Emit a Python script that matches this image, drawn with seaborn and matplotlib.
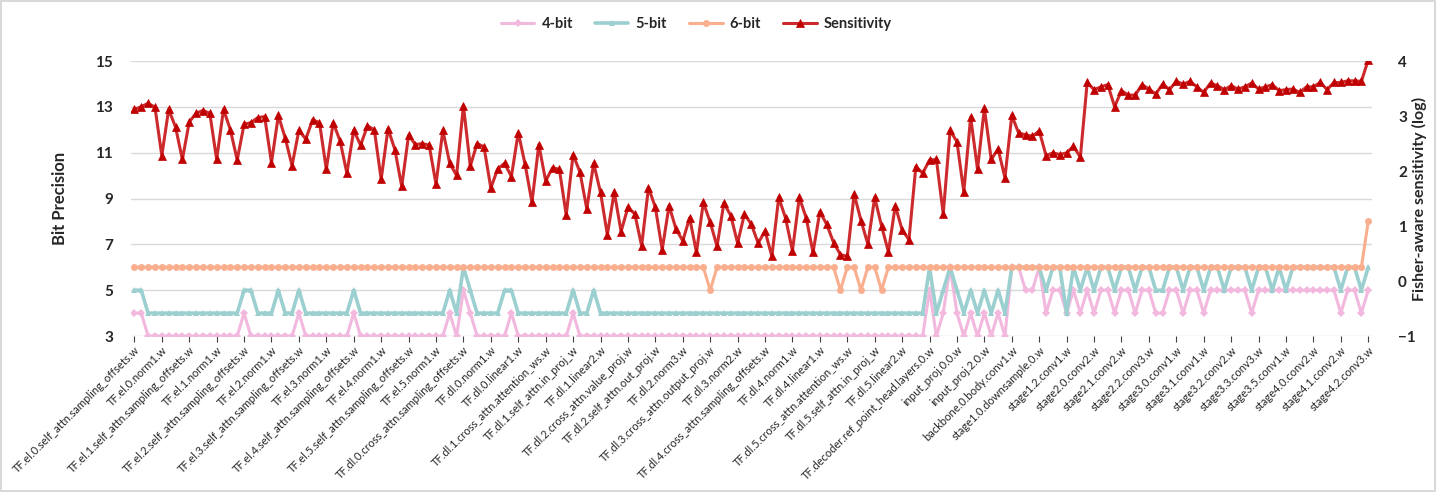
import numpy as np
import pandas as pd
import matplotlib
matplotlib.use("Agg")
import matplotlib.pyplot as plt
import seaborn as sns

# per-layer bit allocation
bits_4 = [4, 4, 3, 3, 3, 3, 3, 3, 3, 3, 3, 3, 3, 3, 3, 3, 4, 3, 3, 3,
          3, 3, 3, 3, 4, 3, 3, 3, 3, 3, 3, 3, 4, 3, 3, 3, 3, 3, 3, 3,
          3, 3, 3, 3, 3, 3, 4, 3, 5, 4, 3, 3, 3, 3, 3, 4, 3, 3, 3, 3,
          3, 3, 3, 3, 4, 3, 3, 3, 3, 3, 3, 3, 3, 3, 3, 3, 3, 3, 3, 3,
          3, 3, 3, 3, 3, 3, 3, 3, 3, 3, 3, 3, 3, 3, 3, 3, 3, 3, 3, 3,
          3, 3, 3, 3, 3, 3, 3, 3, 3, 3, 3, 3, 3, 3, 3, 3, 5, 3, 4, 6,
          4, 3, 4, 3, 4, 3, 4, 3, 6, 6, 5, 5, 6, 4, 5, 5, 4, 5, 4, 5,
          4, 5, 5, 4, 5, 5, 4, 5, 5, 4, 4, 5, 5, 4, 5, 5, 4, 5, 5, 5,
          5, 5, 5, 4, 5, 5, 5, 5, 5, 5, 5, 5, 5, 5, 5, 5, 4, 5, 5, 4,
          5]

bits_5 = [5, 5, 4, 4, 4, 4, 4, 4, 4, 4, 4, 4, 4, 4, 4, 4, 5, 5, 4, 4,
          4, 5, 4, 4, 5, 4, 4, 4, 4, 4, 4, 4, 5, 4, 4, 4, 4, 4, 4, 4,
          4, 4, 4, 4, 4, 4, 5, 4, 6, 5, 4, 4, 4, 4, 5, 5, 4, 4, 4, 4,
          4, 4, 4, 4, 5, 4, 4, 5, 4, 4, 4, 4, 4, 4, 4, 4, 4, 4, 4, 4,
          4, 4, 4, 4, 4, 4, 4, 4, 4, 4, 4, 4, 4, 4, 4, 4, 4, 4, 4, 4,
          4, 4, 4, 4, 4, 4, 4, 4, 4, 4, 4, 4, 4, 4, 4, 4, 6, 4, 5, 6,
          5, 4, 5, 4, 5, 4, 5, 4, 6, 6, 6, 6, 6, 5, 6, 6, 4, 6, 5, 6,
          5, 6, 6, 5, 6, 6, 5, 6, 6, 5, 5, 6, 6, 5, 6, 6, 5, 6, 6, 5,
          6, 6, 6, 5, 6, 6, 5, 6, 5, 6, 6, 6, 6, 6, 6, 6, 5, 6, 6, 5,
          6]

bits_6 = [6] * 84 + [5] + [6] * 18 + [5, 6, 6, 5, 6, 6, 5] + [6] * 70 + [8]

# Fisher-aware sensitivity (log), right axis
sensitivity = [3.12, 3.17, 3.23, 3.16, 2.28, 3.12, 2.80, 2.21, 2.89, 3.05,
               3.10, 3.05, 2.21, 3.12, 2.75, 2.20, 2.85, 2.88, 2.97, 2.99,
               2.15, 3.01, 2.60, 2.10, 2.74, 2.58, 2.93, 2.88, 2.03, 2.88,
               2.55, 1.96, 2.74, 2.47, 2.82, 2.75, 1.85, 2.77, 2.39, 1.72,
               2.65, 2.48, 2.50, 2.47, 1.76, 2.74, 2.14, 1.92, 3.19, 2.09,
               2.50, 2.44, 1.69, 2.04, 2.14, 1.90, 2.70, 2.12, 1.43, 2.48,
               1.82, 2.06, 2.03, 1.20, 2.30, 1.98, 1.31, 2.14, 1.61, 0.84,
               1.62, 0.90, 1.34, 1.22, 0.64, 1.70, 1.34, 0.57, 1.37, 0.95,
               0.73, 1.15, 0.52, 1.43, 1.07, 0.63, 1.42, 1.19, 0.69, 1.22,
               1.03, 0.69, 0.91, 0.45, 1.52, 1.14, 0.55, 1.52, 1.15, 0.52,
               1.26, 1.03, 0.70, 0.48, 0.45, 1.58, 1.10, 0.67, 1.52, 1.00,
               0.53, 1.37, 0.93, 0.75, 2.08, 1.96, 2.20, 2.21, 1.22, 2.74,
               2.53, 1.62, 2.98, 2.03, 3.14, 2.21, 2.40, 1.88, 3.01, 2.69,
               2.66, 2.63, 2.73, 2.28, 2.33, 2.30, 2.33, 2.45, 2.25, 3.61,
               3.48, 3.53, 3.57, 3.17, 3.46, 3.38, 3.38, 3.57, 3.49, 3.40,
               3.58, 3.48, 3.63, 3.58, 3.63, 3.53, 3.43, 3.60, 3.55, 3.48,
               3.55, 3.49, 3.53, 3.60, 3.49, 3.53, 3.57, 3.46, 3.48, 3.49,
               3.43, 3.53, 3.53, 3.61, 3.48, 3.61, 3.61, 3.64, 3.64, 3.63,
               4.02]

# every 4th layer name is printed on the axis
tick_labels = [
    "TF.el.0.self_attn.sampling_offsets.w", "TF.el.0.norm1.w",
    "TF.el.1.self_attn.sampling_offsets.w", "TF.el.1.norm1.w",
    "TF.el.2.self_attn.sampling_offsets.w", "TF.el.2.norm1.w",
    "TF.el.3.self_attn.sampling_offsets.w", "TF.el.3.norm1.w",
    "TF.el.4.self_attn.sampling_offsets.w", "TF.el.4.norm1.w",
    "TF.el.5.self_attn.sampling_offsets.w", "TF.el.5.norm1.w",
    "TF.dl.0.cross_attn.sampling_offsets.w", "TF.dl.0.norm1.w",
    "TF.dl.0.linear1.w", "TF.dl.1.cross_attn.attention_ws.w",
    "TF.dl.1.self_attn.in_proj_w", "TF.dl.1.linear2.w",
    "TF.dl.2.cross_attn.value_proj.w", "TF.dl.2.self_attn.out_proj.w",
    "TF.dl.2.norm3.w", "TF.dl.3.cross_attn.output_proj.w",
    "TF.dl.3.norm2.w", "TF.dl.4.cross_attn.sampling_offsets.w",
    "TF.dl.4.norm1.w", "TF.dl.4.linear1.w",
    "TF.dl.5.cross_attn.attention_ws.w", "TF.dl.5.self_attn.in_proj_w",
    "TF.dl.5.linear2.w", "TF.decoder.ref_point_head.layers.0.w",
    "input_proj.0.0.w", "input_proj.2.0.w",
    "backbone.0.body.conv1.w", "stage1.0.downsample.0.w",
    "stage1.2.conv1.w", "stage2.0.conv2.w",
    "stage2.1.conv2.w", "stage2.2.conv3.w",
    "stage3.0.conv1.w", "stage3.1.conv1.w",
    "stage3.2.conv2.w", "stage3.3.conv3.w",
    "stage3.5.conv1.w", "stage4.0.conv2.w",
    "stage4.1.conv2.w", "stage4.2.conv3.w",
]

sns.set_style("white")
plt.rcParams['font.family'] = ['Lato', 'DejaVu Sans']

layer = np.arange(len(sensitivity))
df = pd.DataFrame({"layer": layer, "4-bit": bits_4, "5-bit": bits_5,
                   "6-bit": bits_6, "Sensitivity": sensitivity})

fig = plt.figure(figsize=(14.36, 4.92), dpi=100)
ax = fig.add_axes([0.0912, 0.317, 0.864, 0.559])
ax2 = ax.twinx()

# bit precision series (left axis)
sns.lineplot(data=df, x="layer", y="4-bit", ax=ax, color="#F2B8DE", lw=2.2,
             marker="D", markersize=4.2, markeredgewidth=0, label="4-bit", legend=False)
sns.lineplot(data=df, x="layer", y="5-bit", ax=ax, color="#9CCFCF", lw=2.6,
             marker="^", markersize=4.5, markeredgewidth=0, label="5-bit", legend=False)
sns.lineplot(data=df, x="layer", y="6-bit", ax=ax, color="#F9AE8E", lw=2.2,
             marker="o", markersize=5, markeredgewidth=0, label="6-bit", legend=False)

# sensitivity (right axis)
sns.lineplot(data=df, x="layer", y="Sensitivity", ax=ax2, color="#CC2A2C", lw=2.2,
             marker="^", markersize=6.2, markerfacecolor="#C00000",
             markeredgecolor="#C00000", markeredgewidth=0.5,
             label="Sensitivity", legend=False)

ax.set_xlim(-0.5, len(layer) - 0.5)
ax.set_ylim(3, 15)
ax.set_yticks(range(3, 16, 2))
ax2.set_ylim(-1, 4)
ax2.set_yticks(range(-1, 5))

ax.grid(axis='y', color='#D9D9D9', lw=1)
ax.set_axisbelow(True)
for a in (ax, ax2):
    for s in a.spines.values():
        s.set_visible(False)

tick_pos = list(range(0, len(layer), 4))
ax.set_xticks(tick_pos)
ax.set_xticklabels(tick_labels, rotation=45, ha='right', rotation_mode='anchor',
                   fontsize=8)
ax.tick_params(axis='x', length=4, width=0.8, color='#404040', pad=2, bottom=True)
ax.tick_params(axis='y', length=0, labelsize=11, pad=13)
ax2.tick_params(axis='y', length=0, labelsize=11, pad=19)
for t in ax.get_yticklabels() + ax2.get_yticklabels():
    t.set_fontweight('bold')

ax.set_xlabel("")
ax.set_ylabel("Bit Precision", fontsize=12, fontweight='bold')
ax.yaxis.set_label_coords(-0.051, 0.5)
ax2.set_ylabel("Fisher-aware sensitivity (log)", fontsize=11.5, fontweight='bold')
ax2.yaxis.set_label_coords(1.0325, 0.5)

handles = ax.get_lines()[:3] + ax2.get_lines()[:1]
labels = ["4-bit", "5-bit", "6-bit", "Sensitivity"]
fig.legend(handles, labels, loc='center', bbox_to_anchor=(0.485, 0.951), ncol=4,
           frameon=False, prop={'weight': 'bold', 'size': 10.5},
           handlelength=2.3, columnspacing=1.5, handletextpad=0.5)

fig.patch.set_edgecolor('#D9D9D9')
fig.patch.set_linewidth(1.5)
fig.savefig("out.png", dpi=100, edgecolor=fig.get_edgecolor())
